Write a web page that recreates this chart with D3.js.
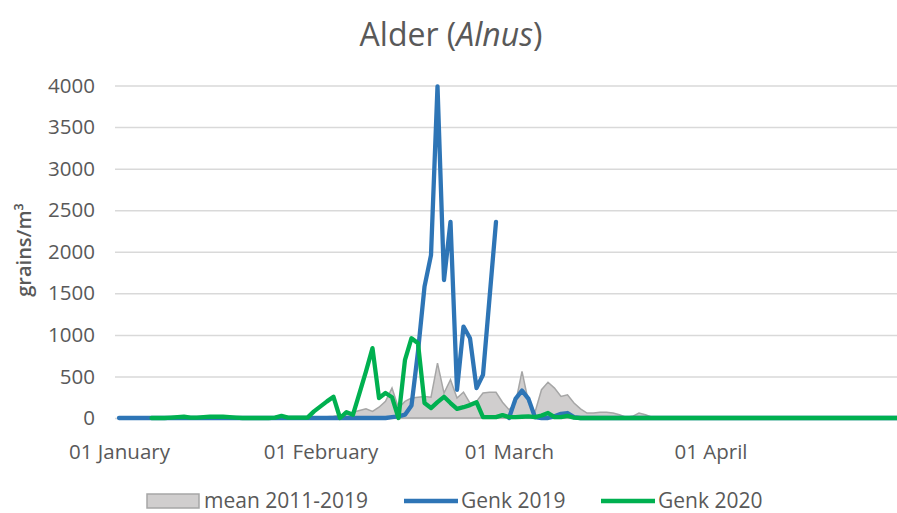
<!DOCTYPE html>
<html><head><meta charset="utf-8">
<script src="https://cdn.jsdelivr.net/npm/d3@7"></script>
<style>
body{margin:0;background:#fff}
text{font-family:"Open Sans",sans-serif;fill:#595959}
</style></head>
<body><svg id="c" width="897" height="513"></svg>
<script>
// Day index 0 = 01 January
const tickLabels = ["01 January","01 February","01 March","01 April"];
const tickDays = [0,31,60,91];
const yTicks = [0,500,1000,1500,2000,2500,3000,3500,4000];
const seriesNames = ["mean 2011-2019","Genk 2019","Genk 2020"];

const mean = [
 0,0,0,0,0,0,0,0,0,0,
 0,0,0,0,0,0,0,0,0,0,
 0,0,0,0,0,0,0,0,0,0,
 5,10,15,20,30,50,70,90,110,80,
 130,200,360,120,200,240,250,260,250,660,
 300,460,240,310,180,200,300,310,310,190,
 100,180,560,190,70,340,430,360,260,280,
 180,110,60,60,70,70,60,40,10,20,
 60,40,10,5,0,0,0,0,0,0,
 0,0,0,0,0,0,0,0,0,0,
 0,0,0,0,0,0,0,0,0,0,
 0,0,0,0,0,0,0,0,0,0,
 0];
const genk2019 = [
 0,0,0,0,0,0,0,0,0,0,
 0,0,0,0,0,0,0,0,0,0,
 0,0,0,0,0,0,0,0,0,0,
 0,0,0,0,0,0,0,0,0,0,
 0,0,10,20,40,150,800,1580,1960,3990,
 1660,2360,340,1100,960,360,520,1440,2360,null,
 0,230,330,230,10,0,0,20,50,60,
 10,0,0,0,0,0,0,0,0,0,
 0,0,0,0,0,0,0,0,0,0,
 0,0,0,0,0,0,0,0,0,0,
 0,0,0,0,0,0,0,0,0,0,
 0,0,0,0,0,0,0,0,0,0,
 0];
const genk2020 = [
 null,null,null,null,null,0,0,0,5,10,
 15,5,5,10,15,15,15,10,5,0,
 0,0,0,0,5,25,5,5,5,5,
 80,140,200,255,0,70,40,300,560,840,
 240,300,250,0,700,960,900,180,120,190,
 255,180,110,130,155,190,10,10,10,35,
 10,10,15,20,10,30,60,10,10,25,
 5,0,0,0,0,0,0,0,0,0,
 0,0,0,0,0,0,0,0,0,0,
 0,0,0,0,0,0,0,0,0,0,
 0,0,0,0,0,0,0,0,0,0,
 0,0,0,0,0,0,0,0,0,0,
 0];

const colors = {mean:"#d0cece", meanStroke:"#a6a6a6", g19:"#2e75b6", g20:"#00b050"};

const svg = d3.select("#c");
svg.append("rect").attr("width",897).attr("height",513).attr("fill","#fff");

const x = d3.scaleLinear().domain([0,120]).range([119,899]);
const y = d3.scaleLinear().domain([0,4000]).range([418,85.5]);

svg.append("defs").append("clipPath").attr("id","clip")
  .append("rect").attr("x",115).attr("y",60).attr("width",782).attr("height",380);

// Y axis with gridlines
const ya = svg.append("g").attr("transform","translate(115,0)")
  .call(d3.axisLeft(y).tickValues(yTicks).tickSize(-782).tickPadding(20).tickFormat(d3.format("d")));
ya.select(".domain").remove();
ya.selectAll(".tick line").attr("stroke","#d9d9d9").attr("stroke-width",1.5);
ya.selectAll(".tick text").attr("font-size",20.5).attr("font-family","Open Sans").attr("fill","#595959");

// X axis labels
const xa = svg.append("g").attr("transform","translate(0,418)")
  .call(d3.axisBottom(x).tickValues(tickDays).tickSize(0).tickPadding(26).tickFormat((d,i)=>tickLabels[i]));
xa.select(".domain").remove();
xa.selectAll(".tick text").attr("font-size",20.5).attr("font-family","Open Sans").attr("fill","#595959");

const plot = svg.append("g").attr("clip-path","url(#clip)");

const area = d3.area().x((d,i)=>x(i)).y0(y(0)).y1(d=>y(d));
plot.append("path").datum(mean).attr("d",area)
  .attr("fill",colors.mean).attr("stroke",colors.meanStroke).attr("stroke-width",1.5);

const line = d3.line().defined(d=>d!==null).x((d,i)=>x(i)).y(d=>y(d));
plot.append("path").datum(genk2019).attr("d",line).attr("fill","none")
  .attr("stroke",colors.g19).attr("stroke-width",4.3).attr("stroke-linejoin","round").attr("stroke-linecap","round");
plot.append("path").datum(genk2020).attr("d",line).attr("fill","none")
  .attr("stroke",colors.g20).attr("stroke-width",4.3).attr("stroke-linejoin","round").attr("stroke-linecap","round");

// Title
const t = svg.append("text").attr("x",451).attr("y",46).attr("text-anchor","middle")
  .attr("font-size",32).attr("fill","#595959");
t.append("tspan").text("Alder (");
t.append("tspan").attr("font-style","italic").text("Alnus");
t.append("tspan").text(")");

// Y axis title
svg.append("text").attr("transform","translate(31,250) rotate(-90)").attr("text-anchor","middle")
  .attr("font-size",20).attr("font-weight",600).attr("fill","#595959").text("grains/m³");

// Legend
const lg = svg.append("g");
lg.append("rect").attr("x",147).attr("y",494).attr("width",52).attr("height",14)
  .attr("fill",colors.mean).attr("stroke",colors.meanStroke).attr("stroke-width",1.5);
lg.append("text").attr("x",204).attr("y",508).attr("font-size",21).text(seriesNames[0]);
lg.append("line").attr("x1",404).attr("x2",458).attr("y1",501).attr("y2",501)
  .attr("stroke",colors.g19).attr("stroke-width",4.5);
lg.append("text").attr("x",461).attr("y",508).attr("font-size",21).text(seriesNames[1]);
lg.append("line").attr("x1",601).attr("x2",655).attr("y1",501).attr("y2",501)
  .attr("stroke",colors.g20).attr("stroke-width",4.5);
lg.append("text").attr("x",658).attr("y",508).attr("font-size",21).text(seriesNames[2]);
</script></body></html>
